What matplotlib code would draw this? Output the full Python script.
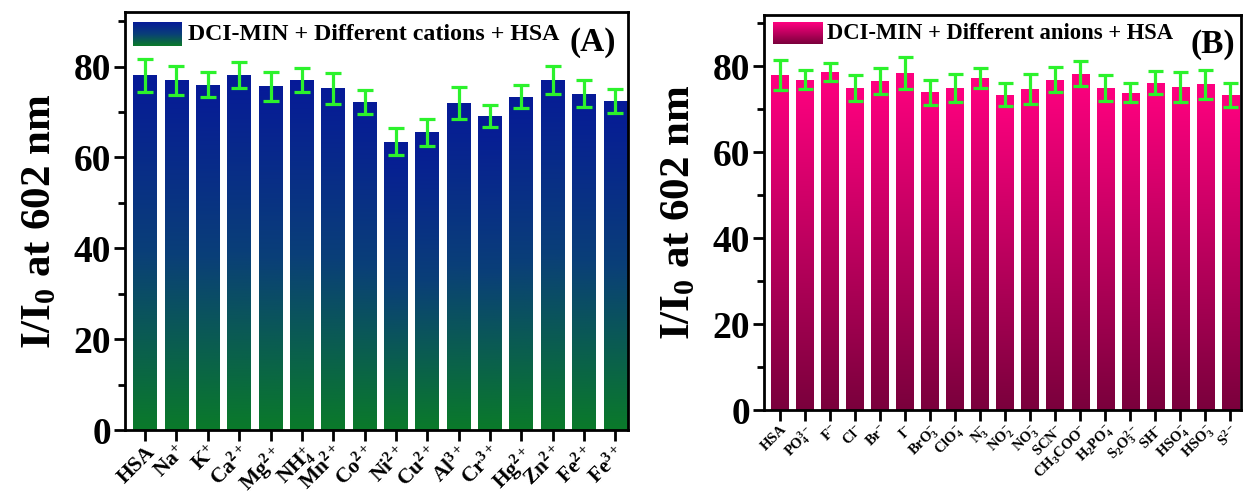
import numpy as np
import matplotlib
matplotlib.use('Agg')
import matplotlib.pyplot as plt
from matplotlib.colors import LinearSegmentedColormap

# (A) 陽イオン
cation_labels = ['HSA', 'Na$^{+}$', 'K$^{+}$', 'Ca$^{2+}$', 'Mg$^{2+}$', 'NH$_{4}^{+}$',
                 'Mn$^{2+}$', 'Co$^{2+}$', 'Ni$^{2+}$', 'Cu$^{2+}$', 'Al$^{3+}$', 'Cr$^{3+}$',
                 'Hg$^{2+}$', 'Zn$^{2+}$', 'Fe$^{2+}$', 'Fe$^{3+}$']
cation_values = [78.1, 77.0, 76.0, 78.1, 75.7, 77.0, 75.2, 72.2,
                 63.5, 65.5, 72.0, 69.1, 73.4, 77.1, 74.0, 72.4]
cation_errors = [3.6, 3.2, 2.8, 2.8, 3.2, 2.6, 3.4, 2.6,
                 3.0, 2.9, 3.5, 2.5, 2.5, 3.1, 3.0, 2.7]

# (B) 陰イオン
anion_labels = ['HSA', 'PO$_{4}^{3-}$', 'F$^{-}$', 'Cl$^{-}$', 'Br$^{-}$', 'I$^{-}$',
                'BrO$_{3}^{-}$', 'ClO$_{4}^{-}$', 'N$_{3}^{-}$', 'NO$_{2}^{-}$', 'NO$_{3}^{-}$',
                'SCN$^{-}$', 'CH$_{3}$COO$^{-}$', 'H$_{2}$PO$_{4}^{-}$', 'S$_{2}$O$_{3}^{2-}$',
                'SH$^{-}$', 'HSO$_{4}^{-}$', 'HSO$_{3}^{-}$', 'S$^{2-}$']
anion_values = [77.9, 76.9, 78.7, 75.0, 76.6, 78.5, 74.0, 75.0, 77.3, 73.4,
                74.8, 76.9, 78.3, 75.0, 73.9, 76.2, 75.2, 75.8, 73.3]
anion_errors = [3.5, 2.2, 2.2, 3.1, 3.0, 3.7, 2.9, 3.2, 2.4, 2.7,
                3.5, 2.9, 2.9, 3.1, 2.2, 2.7, 3.5, 3.3, 2.8]


def gradient_bars(ax, values, errors, width, cmap, capsize):
    x = np.arange(len(values))
    grad = np.linspace(1, 0, 256).reshape(-1, 1)  # 上が1, 下が0
    bars = ax.bar(x, values, width=width, color='none', edgecolor='none')
    for b in bars:
        x0 = b.get_x()
        h = b.get_height()
        im = ax.imshow(grad, cmap=cmap, aspect='auto', vmin=0, vmax=1,
                       extent=[x0, x0 + b.get_width(), 0, h], zorder=2)
        im.set_clip_path(b)
    ax.errorbar(x, values, yerr=errors, fmt='none', ecolor='#2cf22c',
                elinewidth=2.3, capsize=capsize, capthick=2.3, zorder=3)
    return x


def legend_box(ax, cmap, rect, text, tx, ty, label, lx, ly, fs):
    lax = ax.inset_axes(rect)
    lax.imshow(np.linspace(1, 0, 64).reshape(-1, 1), cmap=cmap, aspect='auto',
               vmin=0, vmax=1)
    lax.axis('off')
    ax.text(tx, ty, text, transform=ax.transAxes, fontsize=fs, fontweight='bold',
            va='center', ha='left')
    ax.text(lx, ly, label, transform=ax.transAxes, fontsize=24, fontweight='bold',
            va='center', ha='center')


def style_axes(ax, n, tick_fs):
    ax.set_ylim(0, 92)
    ax.set_xlim(-0.64, n - 1 + 0.4)
    ax.set_yticks([0, 20, 40, 60, 80])
    ax.set_yticks([10, 30, 50, 70, 90], minor=True)
    ax.tick_params(axis='y', which='major', direction='out', length=8, width=2,
                   labelsize=27, pad=2)
    ax.tick_params(axis='y', which='minor', direction='out', length=5, width=2)
    ax.tick_params(axis='x', which='major', direction='out', length=8, width=2,
                   labelsize=tick_fs, pad=1)
    for s in ax.spines.values():
        s.set_linewidth(2)
    for lbl in ax.get_yticklabels():
        lbl.set_fontweight('bold')
    ax.set_ylabel('I/I$_{0}$ at 602 nm', fontsize=31, fontweight='bold', labelpad=10)


def main():
    plt.rcParams['font.family'] = ['Liberation Serif', 'DejaVu Serif']
    plt.rcParams['font.weight'] = 'bold'
    plt.rcParams['mathtext.fontset'] = 'custom'
    plt.rcParams['mathtext.rm'] = 'Liberation Serif:bold'
    plt.rcParams['mathtext.it'] = 'Liberation Serif:bold'
    plt.rcParams['mathtext.bf'] = 'Liberation Serif:bold'

    blue_green = LinearSegmentedColormap.from_list('bg', ['#0a7a2a', '#0a3f78', '#061a98'])
    pink = LinearSegmentedColormap.from_list('pk', ['#7a003c', '#ff0080'])

    fig = plt.figure(figsize=(12.48, 4.97), dpi=100)
    ax1 = fig.add_axes([0.1002, 0.1348, 0.403, 0.841])
    ax2 = fig.add_axes([0.612, 0.175, 0.382, 0.795])

    # (A)
    x1 = gradient_bars(ax1, cation_values, cation_errors, 0.76, blue_green, 6)
    style_axes(ax1, len(cation_values), 15.5)
    ax1.set_xticks(x1)
    ax1.set_xticklabels(cation_labels, rotation=45, ha='right', rotation_mode='anchor',
                        fontweight='bold')
    legend_box(ax1, blue_green, [0.016, 0.919, 0.097, 0.057],
               'DCI-MIN + Different cations + HSA', 0.125, 0.947,
               '(A)', 0.93, 0.926, 17.2)

    # (B)
    x2 = gradient_bars(ax2, anion_values, anion_errors, 0.7, pink, 5.4)
    style_axes(ax2, len(anion_values), 10.5)
    ax2.set_xticks(x2)
    ax2.set_xticklabels(anion_labels, rotation=45, ha='right', rotation_mode='anchor',
                        fontweight='bold')
    legend_box(ax2, pink, [0.019, 0.927, 0.103, 0.055],
               'DCI-MIN + Different anions + HSA', 0.132, 0.954,
               '(B)', 0.942, 0.924, 16.3)

    fig.savefig('out.png', dpi=100)


if __name__ == '__main__':
    main()
